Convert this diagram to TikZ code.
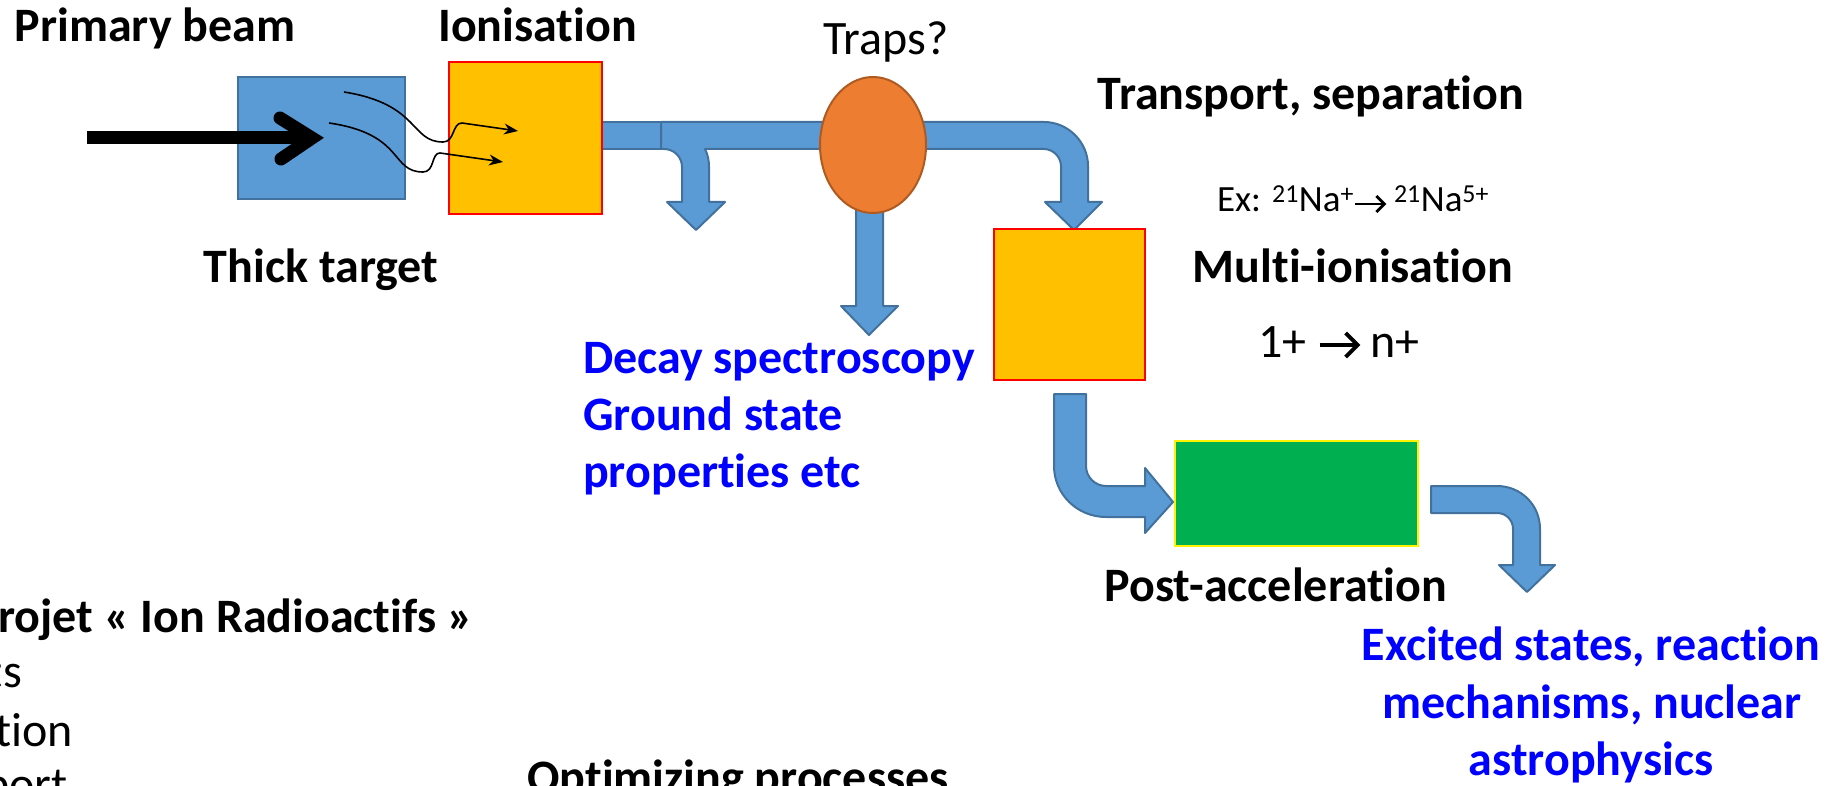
\documentclass[tikz,border=0pt]{standalone}
\usepackage{fontspec}
\setmainfont{Carlito}[Ligatures=NoCommon]
\usetikzlibrary{arrows.meta,shapes.geometric}
\definecolor{pipeblue}{HTML}{5B9BD5}
\definecolor{pipeedge}{HTML}{41719C}
\definecolor{ionfill}{HTML}{FFC000}
\definecolor{trapfill}{HTML}{ED7D31}
\definecolor{trapedge}{HTML}{AE5A21}
\definecolor{accfill}{HTML}{00B050}
\definecolor{textblue}{HTML}{0000FF}
% open chevron arrow glyph: #1 width, #2 height, #3 stroke
\newcommand{\chevarrow}[3]{\tikz[x=1pt,y=1pt,baseline=0pt]{%
  \draw[line width=#3] (0,#2/2) -- (#1-1,#2/2);
  \draw[line width=#3, line join=miter] (#1-#2/2,0) -- (#1,#2/2) -- (#1-#2/2,#2);}}
\tikzset{
  lbl/.style={font=\fontsize{48}{58}\selectfont\bfseries, inner sep=0pt, anchor=base},
  reg/.style={font=\fontsize{48}{58}\selectfont, inner sep=0pt, anchor=base},
  small/.style={font=\fontsize{37}{44}\selectfont, inner sep=0pt, anchor=base},
  blu/.style={lbl, text=textblue},
  pipe/.style={fill=pipeblue, draw=pipeedge, line width=2pt, line join=round},
  targetbox/.style={rectangle, fill=pipeblue, draw=pipeedge, line width=2pt, inner sep=0pt, outer sep=0pt},
  ionbox/.style={rectangle, fill=ionfill, draw=red, line width=2.5pt, inner sep=0pt, outer sep=0pt},
  accbox/.style={rectangle, fill=accfill, draw=yellow, line width=2.5pt, inner sep=0pt, outer sep=0pt},
  trapshape/.style={ellipse, fill=trapfill, draw=trapedge, line width=2pt, inner sep=0pt, outer sep=0pt},
  wave/.style={line width=1.6pt, -{Stealth[length=14pt,width=11pt]}},
}
\begin{document}
\begin{tikzpicture}[x=1pt,y=-1pt]
\useasboundingbox (0,0) rectangle (1827,786);
\clip (0,0) rectangle (1827,786);

% pipes (drawn below the boxes)
\draw[pipe] (598,122) rectangle (661,149);
\draw[pipe] (661,122) -- (873,122) -- (873,149) -- (705,149)
  .. controls (708,155) and (709,161) .. (709,167) -- (709,202) -- (725,202)
  -- (696,230) -- (667,202) -- (682,202) -- (682,167)
  .. controls (682,157) and (674,149) .. (664,149) -- (661,149) -- cycle;
\draw[pipe] (873,122) -- (1044,122) .. controls (1068,122) and (1088,142) .. (1088,166)
  -- (1088,202) -- (1102,202) -- (1074,230) -- (1045,202) -- (1061,202) -- (1061,166)
  .. controls (1061,157) and (1053,149) .. (1044,149) -- (873,149) -- cycle;
\draw[pipe] (856,190) -- (856,306) -- (841,306) -- (869,335) -- (898,306) -- (883,306) -- (883,190) -- cycle;
\draw[pipe] (1054,394) -- (1086,394) -- (1086,466) .. controls (1086,477) and (1095,486) .. (1106,486)
  -- (1145,486) -- (1145,468) -- (1173,502) -- (1145,533) -- (1145,517) -- (1106,517)
  .. controls (1077,517) and (1054,494) .. (1054,466) -- cycle;
\draw[pipe] (1431,486) -- (1497,486) .. controls (1521,486) and (1540,505) .. (1540,529)
  -- (1540,565) -- (1555,565) -- (1527,592) -- (1499,565) -- (1513,565) -- (1513,529)
  .. controls (1513,520) and (1506,513) .. (1497,513) -- (1431,513) -- cycle;

% boxes
\node[targetbox, minimum width=167, minimum height=122] (target) at (321.5,138) {};
\node[ionbox, minimum width=153, minimum height=152] (ion) at (525.5,138) {};
\node[trapshape, minimum width=106, minimum height=136] (trap) at (873,145) {};
\node[ionbox, minimum width=151, minimum height=151] (mion) at (1069.5,304.5) {};
\node[accbox, minimum width=243, minimum height=105] (acc) at (1296.5,493.5) {};

% primary beam arrow
\coordinate (beamstart) at (87,138);
\coordinate (beamtip) at (312,138);
\draw[line width=13pt] (beamstart) -- (beamtip);
\draw[line width=13pt, line cap=round, line join=miter] (280,118) -- (beamtip) -- (281,159);

% wavy ion paths
\coordinate (w1s) at (344,92);
\coordinate (w1e) at (518,131);
\coordinate (w2s) at (329,123);
\coordinate (w2e) at (503,162);
\draw[wave] (w1s) .. controls (420,104) and (410,142) .. (443,142)
  .. controls (455,142) and (452,123) .. (462,123) -- (w1e);
\draw[wave] (w2s) .. controls (405,134) and (390,172) .. (423,172)
  .. controls (435,172) and (431,153) .. (440,153) -- (w2e);

% labels
\node[lbl] (lprim) at (155,42) {Primary beam};
\node[lbl] (lion) at (537.5,42) {Ionisation};
\node[lbl] (lthick) at (321,283) {Thick target};
\node[reg] (ltraps) at (886,55) {Traps?};
\node[lbl] (ltrans) at (1311,110) {Transport, separation};
\node[small] (lex) at (1353,212) {Ex: \textsuperscript{21}Na\textsuperscript{+}\chevarrow{29}{16}{2.8pt} \textsuperscript{21}Na\textsuperscript{5+}};
\node[lbl] (lmulti) at (1353,282) {Multi-ionisation};
\node[reg] (lcharge) at (1339,357) {1+ \chevarrow{38}{24}{3.8pt} n+};
\node[blu, anchor=base west] (dec1) at (583,373) {Decay spectroscopy};
\node[blu, anchor=base west] (dec2) at (583,430) {Ground state};
\node[blu, anchor=base west] (dec3) at (583,487) {properties etc};
\node[lbl] (lpost) at (1276,601) {Post-acceleration};
\node[blu] (exc1) at (1591,660) {Excited states, reaction};
\node[blu] (exc2) at (1592,718) {mechanisms, nuclear};
\node[blu] (exc3) at (1591,775) {astrophysics};

% partly cut text at the bottom left
\node[lbl, anchor=base east] (proj) at (473,632) {projet « Ion Radioactifs »};
\node[reg, anchor=base east] (b1) at (22,687) {ts};
\node[reg, anchor=base east] (b2) at (73,746) {tion};
\node[reg, anchor=base east] (b3) at (68,800) {port};
\node[lbl] (lopt) at (738,793) {Optimizing processes};
\end{tikzpicture}
\end{document}
